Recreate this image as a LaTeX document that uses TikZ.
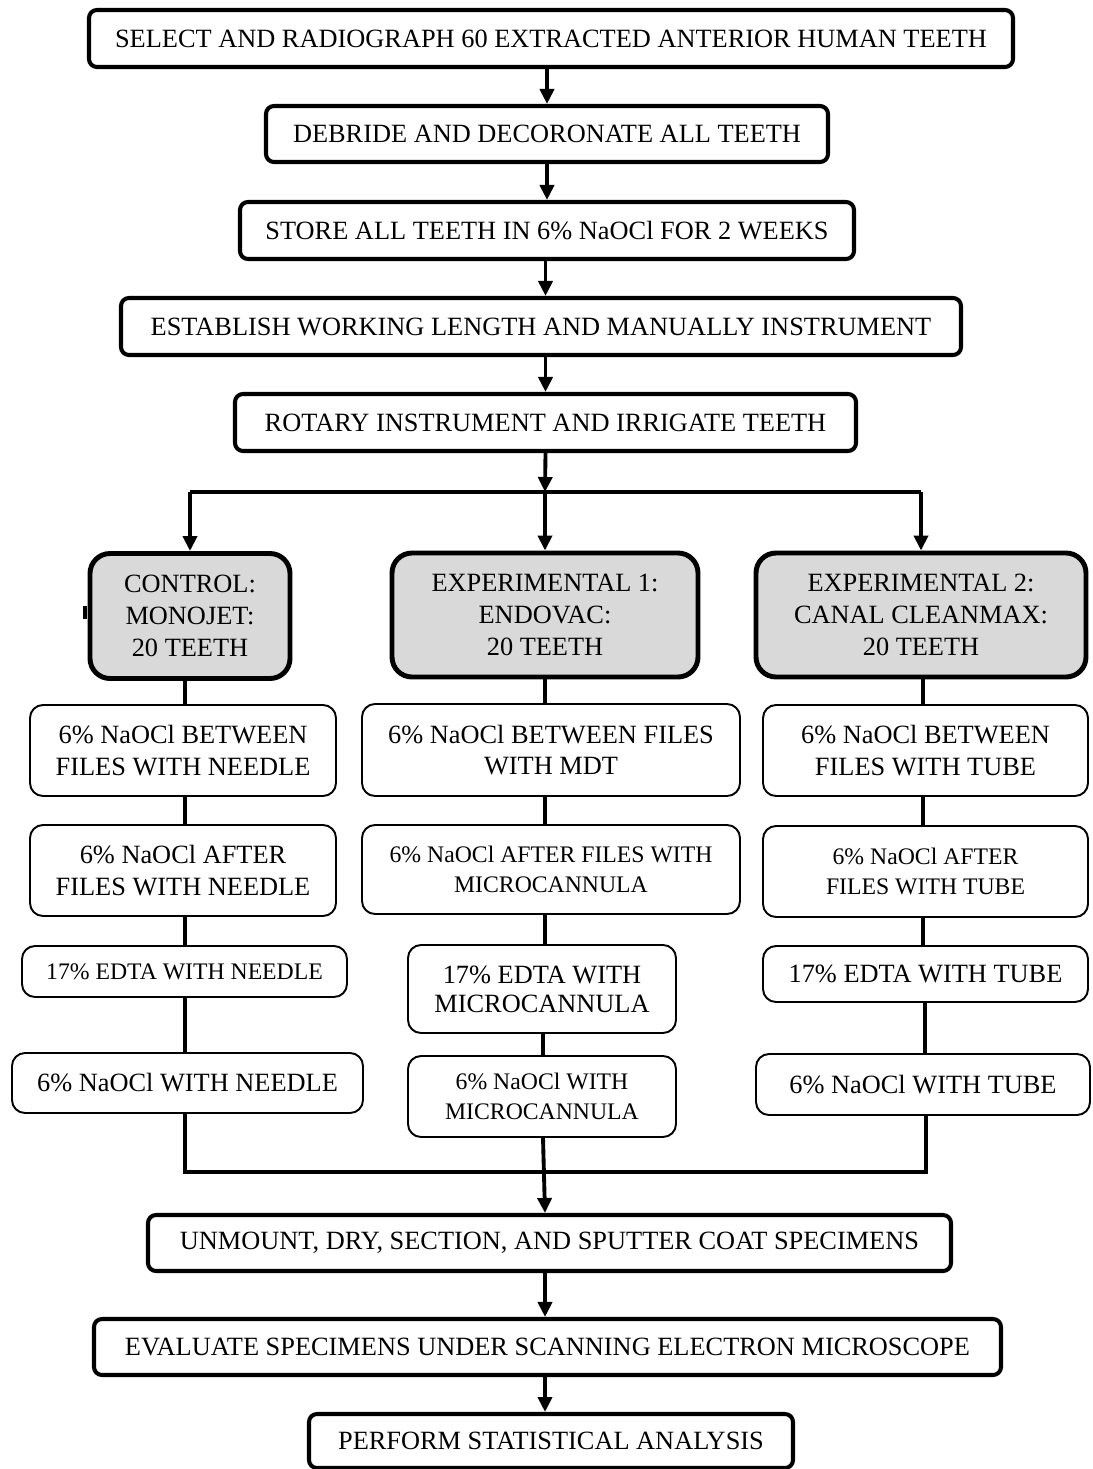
\documentclass[tikz,border=0pt]{standalone}
\usepackage{fontspec}
\setmainfont{Liberation Serif}
\usetikzlibrary{positioning,calc,arrows.meta}
\definecolor{boxgray}{HTML}{D9D9D9}
\tikzset{
  stage/.style={draw,line width=2.3pt,rounded corners=0.16cm,inner sep=0pt,
                align=center,font=\fontsize{15}{18}\selectfont},
  group/.style={draw,line width=2.8pt,rounded corners=0.4cm,fill=boxgray,inner sep=0pt,
                align=center,font=\fontsize{15}{18}\selectfont},
  stepbox/.style={draw,line width=1.1pt,rounded corners=0.26cm,inner sep=0pt,
                align=center,font=\fontsize{15}{18}\selectfont},
  smalltxt/.style={font=\fontsize{13.5}{17}\selectfont},
  sz/.style 2 args={minimum width=#1*0.02cm,minimum height=#2*0.02cm},
  arr/.style={line width=2.2pt,-{Triangle[length=0.3cm,width=0.28cm]}},
  link/.style={line width=2.2pt},
}

\begin{document}
\begin{tikzpicture}[x=0.02cm,y=-0.02cm]
\useasboundingbox (0,0) rectangle (1092,1469);
% Preparation of all teeth
\node[stage,sz={924}{57}] (sel) at (551,38.5) {SELECT AND RADIOGRAPH 60 EXTRACTED ANTERIOR HUMAN TEETH};
\node[stage,sz={562}{56}] (deb) at (547,134) {DEBRIDE AND DECORONATE ALL TEETH};
\node[stage,sz={614}{57}] (sto) at (547,230.5) {STORE ALL TEETH IN 6\% NaOCl FOR 2 WEEKS};
\node[stage,sz={840}{57}] (est) at (541,326.5) {ESTABLISH WORKING LENGTH AND MANUALLY INSTRUMENT};
\node[stage,sz={621}{57}] (rot) at (545.5,422.5) {ROTARY INSTRUMENT AND IRRIGATE TEETH};
\draw[arr] (deb.north |- sel.south) -- (deb.north);
\draw[arr] (sto.north |- deb.south) -- (sto.north);
\draw[arr] (rot.north |- sto.south) -- (rot.north |- est.north);
\draw[arr] (rot.north |- est.south) -- (rot.north);
% The three groups
\node[group,sz={200}{125}] (ctl) at (190,616) {CONTROL:\\MONOJET:\\20 TEETH};
\node[group,sz={306}{124}] (ex1) at (545,615) {EXPERIMENTAL 1:\\ENDOVAC:\\20 TEETH};
\node[group,sz={330}{124}] (ex2) at (921,615) {EXPERIMENTAL 2:\\CANAL CLEANMAX:\\20 TEETH};
\coordinate (split) at (545,492);
\draw[arr] (rot.south) -- (split);
\draw[link,line width=2.4pt] (split -| ctl.north) -- (split -| ex2.north);
\draw[arr] (split -| ctl.north) -- (ctl.north);
\draw[arr] (split) -- (ex1.north);
\draw[arr] (split -| ex2.north) -- (ex2.north);
\fill ([shift={(-5,-10)}]ctl.west) rectangle ++(4,13);
% Control column
\node[stepbox,sz={306}{91}] (a1) at (183,750.5) {6\% NaOCl BETWEEN\\FILES WITH NEEDLE};
\node[stepbox,sz={306}{91}] (a2) at (183,870.5) {6\% NaOCl AFTER\\FILES WITH NEEDLE};
\node[stepbox,smalltxt,sz={325}{51}] (a3) at (184.5,971.5) {17\% EDTA WITH NEEDLE};
\node[stepbox,sz={351}{60}] (a4) at (187.5,1083) {6\% NaOCl WITH NEEDLE};
% Experimental 1 column
\node[stepbox,sz={378}{92}] (b1) at (551,750) {6\% NaOCl BETWEEN FILES\\WITH MDT};
\node[stepbox,smalltxt,sz={378}{89}] (b2) at (551,869.5) {6\% NaOCl AFTER FILES WITH\\MICROCANNULA};
\node[stepbox,font=\fontsize{15}{16.5}\selectfont,sz={268}{88}] (b3) at (542,989) {17\% EDTA WITH\\MICROCANNULA};
\node[stepbox,smalltxt,sz={268}{81}] (b4) at (542,1096.5) {6\% NaOCl WITH\\MICROCANNULA};
% Experimental 2 column
\node[stepbox,sz={325}{91}] (c1) at (925.5,750.5) {6\% NaOCl BETWEEN\\FILES WITH TUBE};
\node[stepbox,smalltxt,sz={325}{91}] (c2) at (925.5,871.5) {6\% NaOCl AFTER\\FILES WITH TUBE};
\node[stepbox,sz={325}{56}] (c3) at (925.5,974) {17\% EDTA WITH TUBE};
\node[stepbox,sz={334}{61}] (c4) at (923,1084.5) {6\% NaOCl WITH TUBE};
% Links down each column
\draw[link] (a1.north -| 185,0) -- (ctl.south -| 185,0);
\draw[link] (185,0 |- a1.south) -- (185,0 |- a2.north);
\draw[link] (185,0 |- a2.south) -- (185,0 |- a3.north);
\draw[link] (185,0 |- a3.south) -- (185,0 |- a4.north);
\draw[link] (545,0 |- ex1.south) -- (545,0 |- b1.north);
\draw[link] (545,0 |- b1.south) -- (545,0 |- b2.north);
\draw[link] (545,0 |- b2.south) -- (545,0 |- b3.north);
\draw[link] (543,0 |- b3.south) -- (543,0 |- b4.north);
\draw[link] (923,0 |- ex2.south) -- (923,0 |- c1.north);
\draw[link] (923,0 |- c1.south) -- (923,0 |- c2.north);
\draw[link] (923,0 |- c2.south) -- (923,0 |- c3.north);
\draw[link] (925,0 |- c3.south) -- (925,0 |- c4.north);
% Join the groups again
\node[stage,sz={803}{56}] (unm) at (549.5,1243) {UNMOUNT, DRY, SECTION, AND SPUTTER COAT SPECIMENS};
\node[stage,sz={907}{56}] (eva) at (547.5,1347) {EVALUATE SPECIMENS UNDER SCANNING ELECTRON MICROSCOPE};
\node[stage,sz={484}{54}] (per) at (551,1441) {PERFORM STATISTICAL ANALYSIS};
\coordinate (merge) at (545,1172);
\draw[link,line width=2.4pt] (185,0 |- a4.south) -- (185,0 |- merge) -- (926,0 |- merge) -- (926,0 |- c4.south);
\draw[arr] (543,0 |- b4.south) -- (545,0 |- unm.north);
\draw[arr] (545,0 |- unm.south) -- (545,0 |- eva.north);
\draw[arr] (545,0 |- eva.south) -- (545,0 |- per.north);
\end{tikzpicture}
\end{document}
